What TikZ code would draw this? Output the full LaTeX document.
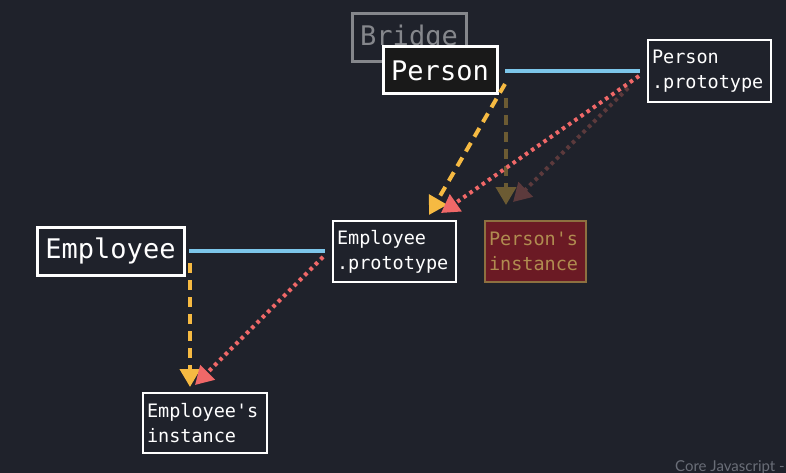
\documentclass[tikz,border=0pt]{standalone}
\usepackage{fontspec}
\setmonofont{DejaVu Sans Mono}
\setsansfont{Lato}
\usetikzlibrary{arrows.meta}
\definecolor{bg}{HTML}{1F222B}
\definecolor{blueln}{HTML}{7CC6EA}
\definecolor{yell}{HTML}{F6BA42}
\definecolor{redd}{HTML}{F06868}
\definecolor{dimyell}{HTML}{6C5B33}
\definecolor{dimred}{HTML}{5C3A3C}
\definecolor{bridgegray}{HTML}{85878C}
\definecolor{instfill}{HTML}{6B1A24}
\definecolor{insttext}{HTML}{B08C50}
\definecolor{footgray}{HTML}{6A6E78}
\tikzset{
  bigbox/.style={draw=white, line width=3pt, font=\ttfamily\fontsize{27}{27}\selectfont, text=white, inner sep=0pt, align=center},
  smallbox/.style={draw=white, line width=2.5pt, font=\ttfamily\fontsize{18.5}{25}\selectfont, text=white, inner xsep=4pt, inner ysep=0pt, align=left},
  bluelink/.style={blueln, line width=4pt},
  tip/.style={-{Triangle[length=18pt,width=20pt]}},
  yarrow/.style={yell, line width=4pt, dash pattern=on 10pt off 7pt, tip},
  rarrow/.style={redd, line width=4pt, dash pattern=on 3.5pt off 4pt, tip},
  dyarrow/.style={dimyell, line width=4pt, dash pattern=on 10pt off 7pt, tip},
  drarrow/.style={dimred, line width=4pt, dash pattern=on 3.5pt off 4pt, tip},
}
\begin{document}
\begin{tikzpicture}[x=1pt,y=-1pt]
\fill[bg] (0,0) rectangle (786,473);
\useasboundingbox (0,0) rectangle (786,473);
% Bridge
\node[draw=bridgegray, line width=3pt, text=bridgegray, font=\ttfamily\fontsize{27}{27}\selectfont, minimum width=114pt, minimum height=48pt, inner sep=0pt, anchor=center] (bridge) at (409,38) {Bridge};
% Person
\node[bigbox, fill=black!90, minimum width=114pt, minimum height=47pt] (person) at (440,70.5) {Person};
% Person.prototype
\node[smallbox, minimum width=123pt, minimum height=62pt, text width=115pt] (pproto) at (709.5,71) {Person\\.prototype};
% Employee
\node[bigbox, minimum width=147pt, minimum height=48pt] (emp) at (110.5,251) {Employee};
% Employee.prototype
\node[smallbox, minimum width=123pt, minimum height=61pt, text width=115pt] (eproto) at (394.5,251.5) {Employee\\.prototype};
% Person's instance
\node[smallbox, draw=insttext!80!black, fill=instfill, text=insttext, minimum width=101pt, minimum height=61pt, text width=93pt] (pinst) at (535.5,251.5) {Person's\\instance};
% Employee's instance
\node[smallbox, minimum width=124pt, minimum height=60pt, text width=116pt] (einst) at (205,423) {Employee's\\instance};
% link coordinates
\coordinate (pR) at (505,71.5);
\coordinate (ppL) at (640,71.5);
\coordinate (eR) at (189,251);
\coordinate (epL) at (325,251);
\draw[bluelink] (pR) -- (ppL);
\draw[bluelink] (eR) -- (epL);
% arrow coordinates
\coordinate (y1s) at (505,84);
\coordinate (y1e) at (429,215);
\coordinate (dys) at (506,98);
\coordinate (dye) at (506,205);
\coordinate (r1s) at (639,76);
\coordinate (r1e) at (441,213);
\coordinate (drs) at (628,88);
\coordinate (dre) at (513,202);
\coordinate (y2s) at (190,263);
\coordinate (y2e) at (190,387);
\coordinate (r2s) at (323,257);
\coordinate (r2e) at (195,385);
\draw[dyarrow] (dys) -- (dye);
\draw[drarrow] (drs) -- (dre);
\draw[yarrow] (y1s) -- (y1e);
\draw[rarrow] (r1s) -- (r1e);
\draw[yarrow] (y2s) -- (y2e);
\draw[rarrow] (r2s) -- (r2e);
% footer
\node[anchor=base west, text=footgray, font=\sffamily\fontsize{15}{15}\selectfont, inner sep=0pt] (foot) at (675,471) {Core Javascript -};
\end{tikzpicture}
\end{document}
